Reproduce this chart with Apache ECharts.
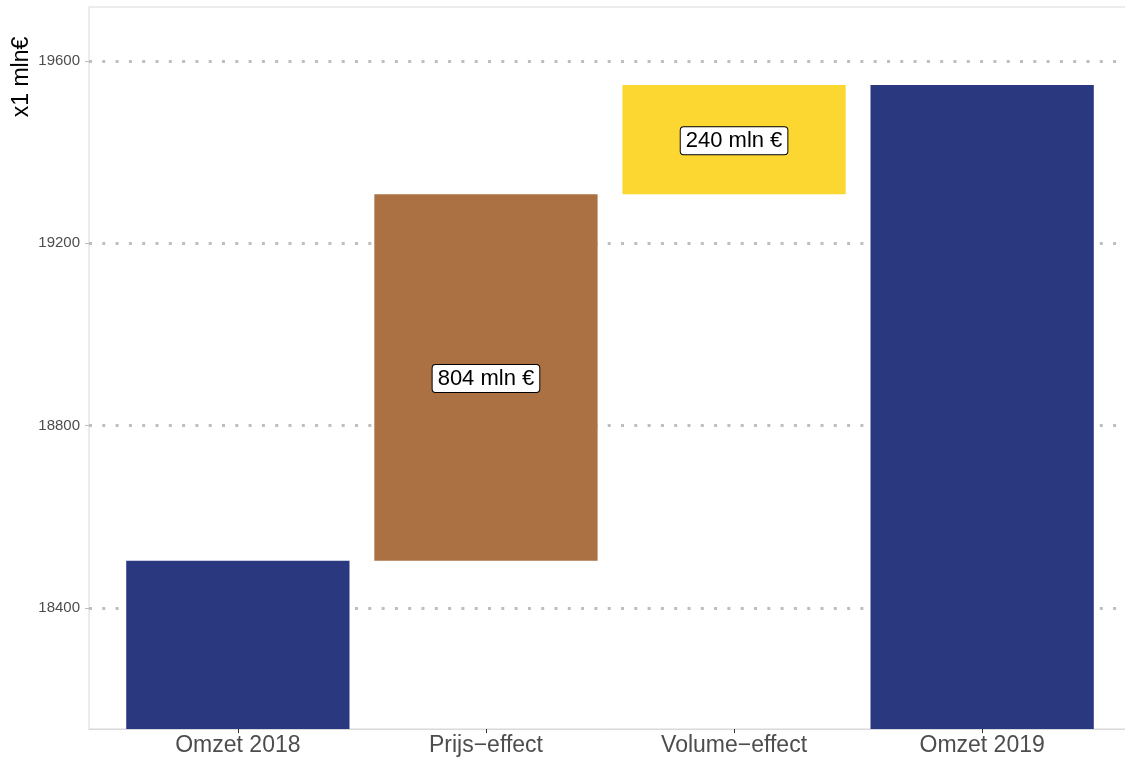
<!DOCTYPE html>
<html>
<head>
<meta charset="utf-8">
<script src="https://cdn.jsdelivr.net/npm/echarts@6/dist/echarts.min.js"></script>
<style>
html,body{margin:0;padding:0;background:#fff;}
#chart{width:1125px;height:760px;}
</style>
</head>
<body>
<div id="chart"></div>
<script>
// ---- data ----
const categories = ['Omzet 2018', 'Prijs\u2212effect', 'Volume\u2212effect', 'Omzet 2019'];
const omzet2018 = 18503;
const prijsEffect = 804;
const volumeEffect = 240;
const omzet2019 = 19547;
const yTicks = [18400, 18800, 19200, 19600];
const yRange = [18134, 19718];
const yTitle = 'x1 mln\u20ac';
const labelUnit = ' mln \u20ac';

// ---- styles ----
const colors = ['#2A3880', '#AC7142', '#FDD731', '#2A3880'];
const FONT = "'Liberation Sans', Arial, Helvetica, sans-serif";

// waterfall segments: [x, low, high, colorIndex, label]
const segs = [
  [1, 0, omzet2018, 0, ''],
  [2, omzet2018, omzet2018 + prijsEffect, 1, prijsEffect + labelUnit],
  [3, omzet2018 + prijsEffect, omzet2018 + prijsEffect + volumeEffect, 2, volumeEffect + labelUnit],
  [4, 0, omzet2019, 3, '']
];
const xVals = categories.map((c, i) => i + 1);

const chart = echarts.init(document.getElementById('chart'), null, {renderer: 'canvas'});

function renderItem(params, api) {
  const x = api.value(0), lo = api.value(1), hi = api.value(2);
  const ci = api.value(3);
  const seg = segs[params.dataIndex];
  const p1 = api.coord([x, lo]);
  const p2 = api.coord([x, hi]);
  const w = api.size([0.9, 0])[0];
  const cs = params.coordSys;
  const shape = echarts.graphic.clipRectByRect({
    x: p1[0] - w / 2, y: p2[1], width: w, height: p1[1] - p2[1]
  }, {x: cs.x, y: cs.y, width: cs.width, height: cs.height});
  const children = [];
  if (shape) {
    children.push({type: 'rect', shape: shape, style: {fill: colors[ci]}});
  }
  if (seg[4]) {
    children.push({
      type: 'text',
      x: p1[0], y: (p1[1] + p2[1]) / 2 + 1,
      style: {
        text: seg[4], fontSize: 22, fontFamily: FONT, fill: '#000',
        align: 'center', verticalAlign: 'middle',
        backgroundColor: '#fff', borderColor: '#000', borderWidth: 1,
        borderRadius: 3, padding: [3, 5, 2, 5]
      }
    });
  }
  return {type: 'group', children: children};
}

const option = {
  animation: false,
  backgroundColor: '#fff',
  grid: {
    left: 89, right: -6, top: 7, bottom: 31,
    outerBoundsMode: 'none', containLabel: false,
    show: true, borderColor: '#d9d9d9', borderWidth: 1, backgroundColor: 'transparent'
  },
  xAxis: {
    type: 'value', min: 0.4, max: 4.6,
    axisLine: {show: true, lineStyle: {color: '#d9d9d9', width: 1}},
    axisTick: {show: true, length: 4, customValues: xVals, lineStyle: {color: '#333', width: 1}},
    axisLabel: {
      customValues: xVals, fontSize: 23, fontFamily: FONT, color: '#4d4d4d', margin: 5,
      formatter: v => categories[Math.round(v) - 1] || ''
    },
    splitLine: {show: false}
  },
  yAxis: {
    type: 'value', min: yRange[0], max: yRange[1],
    axisLine: {show: false},
    axisTick: {show: true, length: 4, customValues: yTicks, lineStyle: {color: '#bdbdbd', width: 1}},
    axisLabel: {customValues: yTicks, fontSize: 15, fontFamily: FONT, color: '#4d4d4d', margin: 9,
      formatter: v => String(v)},
    splitLine: {show: false}
  },
  graphic: [{
    type: 'text', x: 22, y: 77, rotation: Math.PI / 2,
    style: {text: yTitle, fontSize: 23, fontFamily: FONT, fill: '#000', align: 'center', verticalAlign: 'middle'}
  }],
  series: [
    {
      type: 'line', data: [], z: 1, silent: true,
      markLine: {
        z: 1, silent: true, symbol: ['none', 'none'], label: {show: false},
        lineStyle: {color: '#bebebe', width: 3, type: [3, 10.3], cap: 'butt'},
        emphasis: {disabled: true},
        data: yTicks.map(v => ({yAxis: v}))
      }
    },
    {
      type: 'custom', z: 3, clip: true,
      renderItem: renderItem,
      encode: {x: 0, y: [1, 2]},
      data: segs.map(s => [s[0], s[1], s[2], s[3]])
    }
  ]
};
chart.setOption(option);
</script>
</body>
</html>
